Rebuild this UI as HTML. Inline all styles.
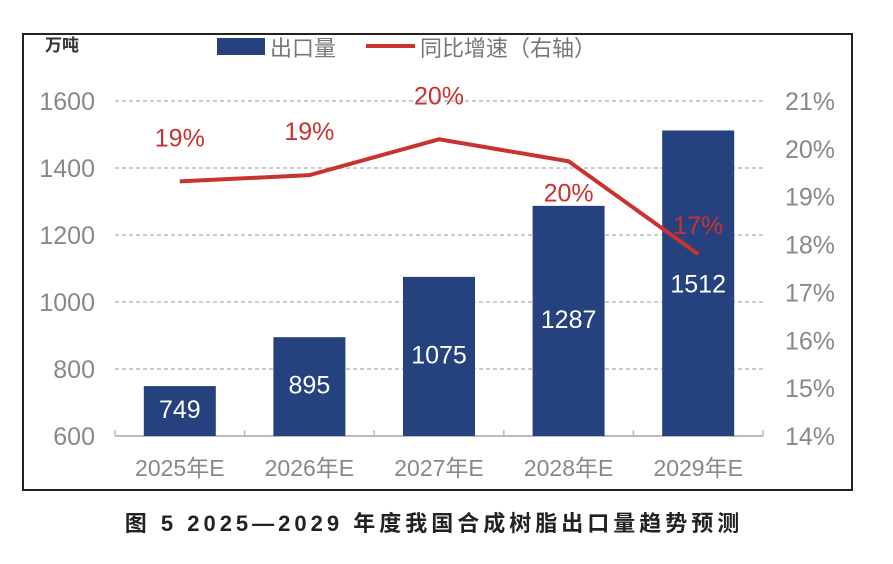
<!DOCTYPE html>
<html><head><meta charset="utf-8"><style>
body{margin:0;background:#fff;width:893px;height:559px;overflow:hidden;font-family:"Liberation Sans","Noto Sans CJK SC",sans-serif}
</style></head><body>
<svg width="893" height="559" xmlns="http://www.w3.org/2000/svg" id="c" font-family="Liberation Sans, Noto Sans CJK SC, sans-serif">
<rect x="23" y="34" width="829" height="456" fill="#fff" stroke="#222" stroke-width="2"/>
<text x="45" y="51" font-size="17" font-weight="bold" fill="#333">万吨</text>
<rect x="217" y="38" width="48" height="17" fill="#25427f"/>
<text x="270" y="56" font-size="22" fill="#777">出口量</text>
<line x1="366" y1="46" x2="415" y2="46" stroke="#c8322f" stroke-width="4"/>
<text x="420" y="56" font-size="22" fill="#777">同比增速（右轴）</text>
<g id="g"></g>
<text x="434" y="531" font-size="22" font-weight="bold" letter-spacing="4" fill="#222" text-anchor="middle">图 5  2025—2029 年度我国合成树脂出口量趋势预测</text>
</svg>
<script>
const categories=["2025年E","2026年E","2027年E","2028年E","2029年E"];
const exportVolume=[749,895,1075,1287,1512];
const growthRate=[19.32,19.45,20.2,19.74,17.8];
const growthLabels=["19%","19%","20%","20%","17%"];
const leftTicks=[600,800,1000,1200,1400,1600];
const rightTicks=[14,15,16,17,18,19,20,21];
const NS="http://www.w3.org/2000/svg";
const g=document.getElementById('g');
const x0=115,x1=763,yTop=101,yBot=436;
const yL=v=>yBot-(v-600)/1000*(yBot-yTop);
const yR=v=>yBot-(v-14)/7*(yBot-yTop);
const band=(x1-x0)/categories.length;
const xc=i=>x0+band*(i+0.5);
function mk(t,a){const e=document.createElementNS(NS,t);for(const k in a)e.setAttribute(k,a[k]);g.appendChild(e);return e;}
leftTicks.forEach(v=>{
 if(v>600){const l=mk('line',{x1:x0,x2:x1,y1:yL(v),y2:yL(v),stroke:'#bbb','stroke-width':1.5,'stroke-dasharray':'4,3'});
 
 }
 const t=mk('text',{x:95,y:yL(v)+9,'font-size':25,fill:'#888','text-anchor':'end'});t.textContent=v;
 
 
});
rightTicks.forEach(v=>{
 const t=mk('text',{x:835,y:yR(v)+9,'font-size':25,fill:'#888','text-anchor':'end'});t.textContent=v+'%';
 
 
});
const ax=mk('line',{x1:x0,x2:x1,y1:yBot,y2:yBot,stroke:'#bbb','stroke-width':2});


for(let i=0;i<=categories.length;i++){const tk=mk('line',{x1:x0+band*i,x2:x0+band*i,y1:yBot,y2:yBot-6,stroke:'#bbb','stroke-width':1.5});
 
 }
categories.forEach((c,i)=>{
 const v=exportVolume[i];
 const r=mk('rect',{x:xc(i)-36,y:yL(v),width:72,height:yBot-yL(v),fill:'#25427f'});
 
 
 const t=mk('text',{x:xc(i),y:(i===4?yL(v)+162:yL(v)+(yBot-yL(v))/2+7),'font-size':25,fill:'#fff','text-anchor':'middle'});t.textContent=v;
 
 
 const cl=mk('text',{x:xc(i),y:476,'font-size':23,fill:'#888','text-anchor':'middle'});cl.textContent=c;
 
 
});
const pl=mk('polyline',{points:growthRate.map((v,i)=>xc(i)+','+yR(v)).join(' '),fill:'none',stroke:'#c8322f','stroke-width':4});


const offs=[-35,-35,-35,40,-20];
growthLabels.forEach((s,i)=>{
 const t=mk('text',{x:xc(i),y:yR(growthRate[i])+offs[i],'font-size':25,fill:'#c8322f','text-anchor':'middle'});t.textContent=s;
 
 
});
</script>
</body></html>
